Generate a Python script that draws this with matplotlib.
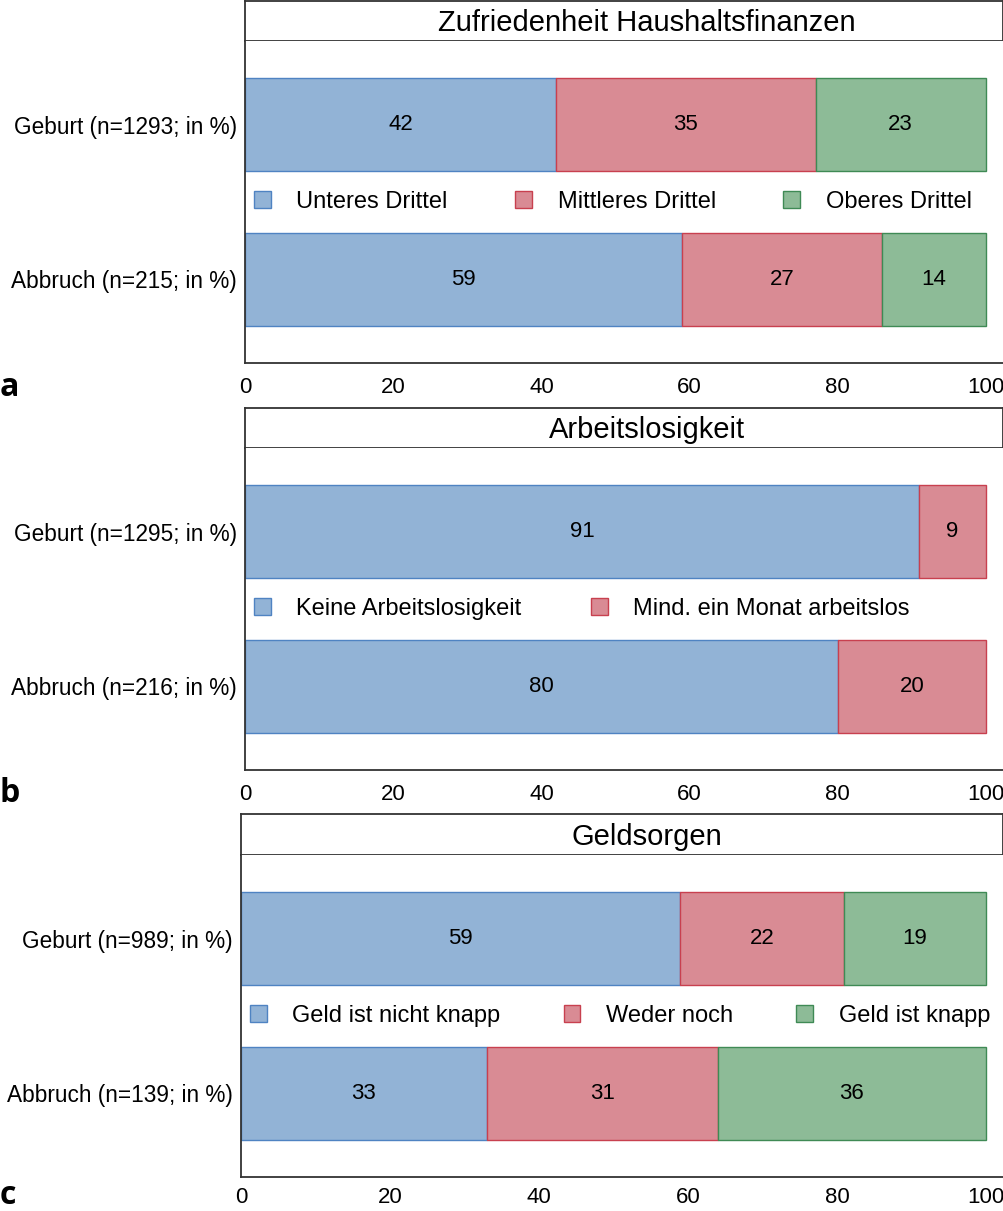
"""
Drei gestapelte Balkendiagramme: Haushaltsfinanzen, Arbeitslosigkeit, Geldsorgen
"""
from matplotlib import pyplot as plt

W, H = 1004, 1211

# --- Daten ---
titel_a = 'Zufriedenheit Haushaltsfinanzen'
gruppen_a = ['Abbruch (n=215; in %)', 'Geburt (n=1293; in %)']
kat_a = ['Unteres Drittel', 'Mittleres Drittel', 'Oberes Drittel']
werte_a = [[59, 42], [27, 35], [14, 23]]

titel_b = 'Arbeitslosigkeit'
gruppen_b = ['Abbruch (n=216; in %)', 'Geburt (n=1295; in %)']
kat_b = ['Keine Arbeitslosigkeit', 'Mind. ein Monat arbeitslos']
werte_b = [[80, 91], [20, 9]]

titel_c = 'Geldsorgen'
gruppen_c = ['Abbruch (n=139; in %)', 'Geburt (n=989; in %)']
kat_c = ['Geld ist nicht knapp', 'Weder noch', 'Geld ist knapp']
werte_c = [[33, 59], [31, 22], [36, 19]]

x_ticks = [0, 20, 40, 60, 80, 100]

fuellung = ['#92b3d6', '#d98b94', '#8dbb97']
kanten = ['#4f83c2', '#c8404f', '#3f8a55']

plt.rcParams['font.family'] = ['Liberation Sans', 'DejaVu Sans']

fig = plt.figure(figsize=(W / 100, H / 100), dpi=100)


def px_box(x0, y0, x1, y1):
    # Pixelkoordinaten (oben links) -> Figurenanteile
    return [x0 / W, 1 - y1 / H, (x1 - x0) / W, (y1 - y0) / H]


def panel(titel, gruppen, kat, werte, x0, y_box, y_top, y_bot, leg_x1, buchstabe, xpad, bpos):
    # Titelkasten
    tax = fig.add_axes(px_box(x0, y_box, W - 1, y_top))
    tax.set_xticks([])
    tax.set_yticks([])
    for s in tax.spines.values():
        s.set_color('#333333')
        s.set_linewidth(1.3)
    tax.text((647 - x0) / (W - 1 - x0), 0.45, titel, transform=tax.transAxes,
             ha='center', va='center', fontsize=21)

    ax = fig.add_axes(px_box(x0, y_top, W - 1, y_bot))
    y = [0, 1]
    links = [0, 0]
    for i in range(len(kat)):
        bars = ax.barh(y, werte[i], left=links, height=0.6, color=fuellung[i],
                       edgecolor=kanten[i], linewidth=1, label=kat[i])
        ax.bar_label(bars, labels=[str(v) for v in werte[i]], label_type='center',
                     fontsize=16)
        links = [links[j] + werte[i][j] for j in range(2)]

    ax.set_xlim(0, 102.3)
    ax.set_ylim(-0.54, 1.54)
    ax.set_yticks(y)
    ax.set_yticklabels(gruppen, fontsize=16.3)
    ax.set_xticks(x_ticks)
    ax.set_xticklabels([str(t) for t in x_ticks], fontsize=16)
    ax.tick_params(length=0, pad=6)
    ax.tick_params(axis='x', pad=xpad)
    ax.spines['right'].set_visible(False)
    ax.spines['top'].set_visible(False)
    for s in ['left', 'bottom']:
        ax.spines[s].set_color('#333333')
        ax.spines[s].set_linewidth(1.3)

    breite = W - 1 - x0
    lx0 = 9 / breite
    lx1 = (leg_x1 - x0) / breite
    ax.legend(loc='center left', bbox_to_anchor=(lx0, 0.5, lx1 - lx0, 0.0),
              mode='expand', ncol=len(kat), frameon=False, fontsize=17,
              handlelength=0.7, handleheight=0.7, handletextpad=1.1,
              borderaxespad=0, borderpad=0)

    fig.text(0.0 / W, 1 - (y_bot + bpos) / H, buchstabe, fontsize=23,
             fontweight='bold', family=['Open Sans', 'DejaVu Sans'],
             ha='left', va='center')


panel(titel_a, gruppen_a, kat_a, werte_a, 245, 1, 41, 363, 972, 'a', 10, 24)
panel(titel_b, gruppen_b, kat_b, werte_b, 245, 408, 448, 770, 910, 'b', 10, 24)
panel(titel_c, gruppen_c, kat_c, werte_c, 241, 814, 855, 1177, 990, 'c', 7, 19)

plt.savefig('out.png', dpi=100)
